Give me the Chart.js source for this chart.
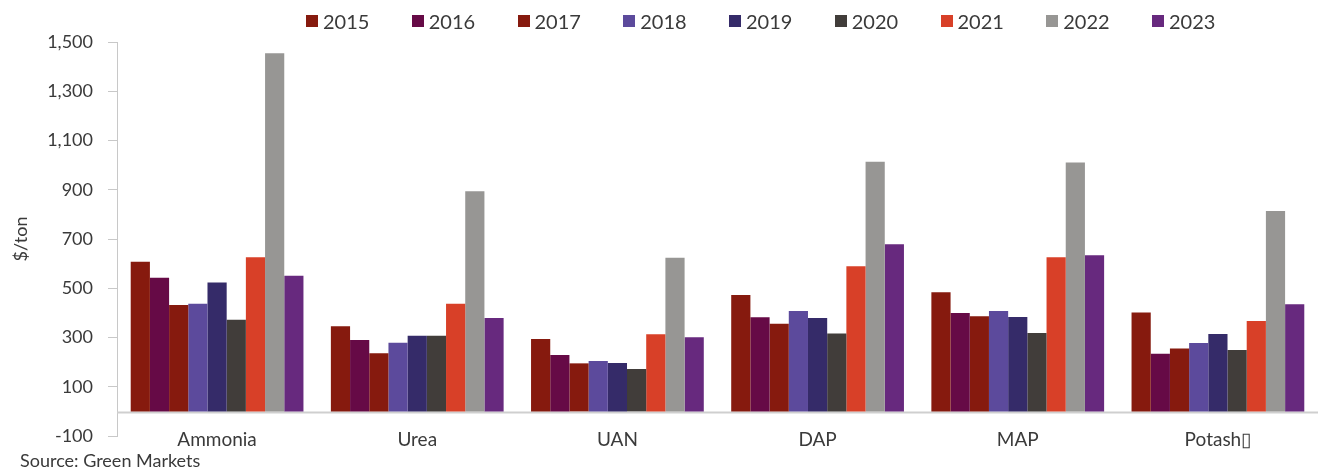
<!DOCTYPE html>
<html>
<head>
<meta charset="utf-8">
<script src="https://cdn.jsdelivr.net/npm/chart.js@4.4.1/dist/chart.umd.min.js"></script>
<style>
  body { margin: 0; background: #fff; }
  #wrap { position: relative; width: 1322px; height: 470px; }
  #legend { position: absolute; left: 306px; top: 8px; display: flex; font-family: Lato, sans-serif; font-size: 20px; color: #3a3a3a; }
  #legend .item { width: 105.75px; display: flex; align-items: center; height: 26px; }
  #legend .box { width: 12px; height: 12px; margin-right: 5px; }
</style>
</head>
<body>
<div id="wrap">
  <div id="legend"></div>
  <canvas id="chart" width="1322" height="470"></canvas>
</div>
<script>
const products = ["Ammonia", "Urea", "UAN", "DAP", "MAP", "Potash\u25AF"];
const years = ["2015", "2016", "2017", "2018", "2019", "2020", "2021", "2022", "2023"];

// $/ton per product, one list per year
const y2015 = [608, 346, 294, 473, 484, 402];
const y2016 = [543, 290, 229, 382, 400, 234];
const y2017 = [432, 236, 195, 356, 386, 255];
const y2018 = [437, 279, 205, 408, 408, 278];
const y2019 = [523, 307, 196, 379, 383, 314];
const y2020 = [372, 307, 172, 316, 318, 249];
const y2021 = [626, 437, 313, 589, 626, 367];
const y2022 = [1454, 894, 624, 1014, 1011, 814];
const y2023 = [551, 379, 301, 679, 634, 435];

const yTicks = [-100, 100, 300, 500, 700, 900, 1100, 1300, 1500];

const colors = ["#861a0e", "#660a46", "#861a0e", "#5c4a9c", "#352b69", "#413d3a", "#d84028", "#979694", "#67297e"];
const series = [y2015, y2016, y2017, y2018, y2019, y2020, y2021, y2022, y2023];

const font = "Lato, sans-serif";

// legend
const legendBox = document.getElementById("legend");
years.forEach((yr, i) => {
  const item = document.createElement("div");
  item.className = "item";
  item.innerHTML = '<span class="box" style="background:' + colors[i] + '"></span><span>' + yr + '</span>';
  legendBox.appendChild(item);
});

const zeroLine = {
  id: "zeroLine",
  beforeDatasetsDraw(chart) {
    const ctx = chart.ctx;
    const y = chart.scales.y.getPixelForValue(0);
    ctx.save();
    ctx.strokeStyle = "#cfcfcf";
    ctx.lineWidth = 2;
    ctx.beginPath();
    ctx.moveTo(chart.chartArea.left, y + 1);
    ctx.lineTo(chart.chartArea.right, y + 1);
    ctx.stroke();
    ctx.restore();
  }
};

new Chart(document.getElementById("chart").getContext("2d"), {
  type: "bar",
  data: {
    labels: products,
    datasets: years.map((yr, i) => ({
      label: yr,
      data: series[i],
      backgroundColor: colors[i],
      borderWidth: 0,
      categoryPercentage: 0.863,
      barPercentage: 1
    }))
  },
  options: {
    responsive: false,
    animation: false,
    layout: { padding: { top: 42, right: 4, left: 20, bottom: 0 } },
    plugins: {
      legend: { display: false },
      tooltip: { enabled: false },
      subtitle: {
        display: true,
        text: "Source: Green Markets",
        position: "bottom",
        align: "start",
        color: "#3a3a3a",
        font: { family: font, size: 18, lineHeight: 1 },
        padding: { top: 0, bottom: 0 }
      }
    },
    scales: {
      x: {
        grid: { display: false, drawTicks: false },
        border: { display: false },
        ticks: { color: "#3a3a3a", font: { family: font, size: 19 }, mirror: true, padding: -15 },
        afterFit: s => { s.height = 16; }
      },
      y: {
        min: -100,
        max: 1500,
        afterBuildTicks: s => { s.ticks = yTicks.map(v => ({ value: v })); },
        grid: { drawOnChartArea: false, drawTicks: true, tickLength: 9, color: "#c8c8c8" },
        border: { display: true, color: "#c8c8c8" },
        ticks: {
          color: "#3a3a3a",
          font: { family: font, size: 18 },
          padding: 15,
          callback: v => v.toLocaleString("en-US")
        },
        title: {
          display: true,
          text: "$/ton",
          color: "#3a3a3a",
          font: { family: font, size: 18 },
          padding: { top: -10, bottom: 0 }
        },
        afterFit: s => { s.width = 97; }
      }
    }
  },
  plugins: [zeroLine]
});
</script>
</body>
</html>
